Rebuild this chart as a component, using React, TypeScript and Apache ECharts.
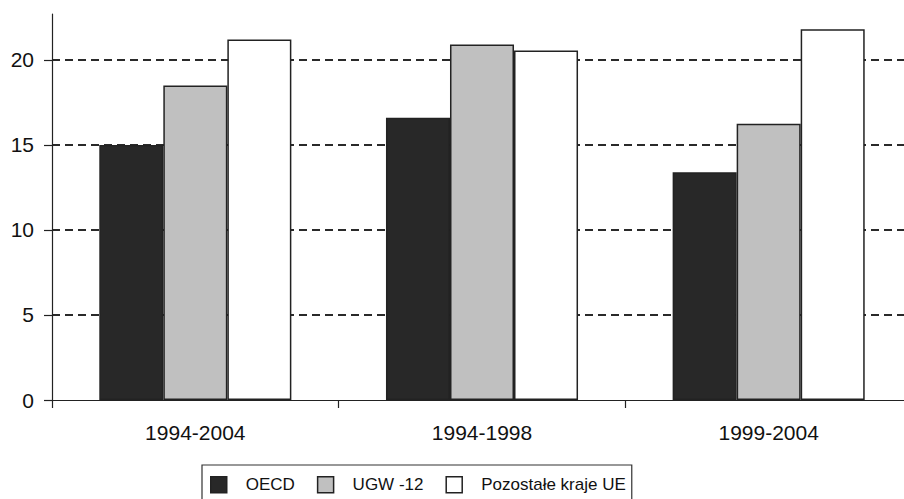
import React, { useEffect, useRef } from "react";
import * as echarts from "echarts";

const categories = ["1994-2004", "1994-1998", "1999-2004"];
const seriesNames = ["OECD", "UGW -12", "Pozostałe kraje UE"];
const oecd = [15.0, 16.6, 13.4];
const ugw = [18.5, 20.9, 16.25];
const pozostale = [21.2, 20.55, 21.8];
const yTicks = [0, 5, 10, 15, 20];
const seriesColors = ["#282828", "#c0c0c0", "#ffffff"];

export default function App() {
  const ref = useRef<HTMLDivElement>(null);
  useEffect(() => {
    if (!ref.current) return;
    const chart = echarts.init(ref.current, null, { renderer: "svg" });
    const font = "'Liberation Sans', Arial, sans-serif";
    const values = [oecd, ugw, pozostale];
    chart.setOption({
      animation: false,
      backgroundColor: "#ffffff",
      grid: { left: 52, right: 0, top: 14, bottom: 99, containLabel: false },
      legend: {
        left: 202,
        top: 465,
        padding: [11, 6, 10, 8],
        borderColor: "#333",
        borderWidth: 1.2,
        itemWidth: 16,
        itemHeight: 16,
        itemGap: 22,
        icon: "rect",
        textStyle: {
          fontFamily: font,
          fontSize: 17,
          color: "#111",
          padding: [0, 0, 0, 14],
        },
        data: seriesNames.map((n, i) => ({
          name: n,
          itemStyle: { color: seriesColors[i], borderColor: "#222", borderWidth: 1.5 },
        })),
      },
      xAxis: {
        type: "category",
        data: categories,
        boundaryGap: true,
        axisLine: { show: true, lineStyle: { color: "#222", width: 1.2 } },
        axisTick: { show: true, alignWithLabel: false, interval: 0, length: 8, lineStyle: { color: "#222", width: 1.2 } },
        axisLabel: { fontFamily: font, fontSize: 21, color: "#111", margin: 22, interval: 0 },
        splitLine: { show: false },
      },
      yAxis: {
        type: "value",
        min: 0,
        max: 22.7,
        interval: 5,
        axisLine: { show: true, lineStyle: { color: "#222", width: 1.2 } },
        axisTick: {
          show: true,
          length: 8,
          customValues: yTicks,
          lineStyle: { color: "#222", width: 1.2 },
        },
        axisLabel: {
          fontFamily: font,
          fontSize: 21,
          color: "#111",
          margin: 18,
          customValues: yTicks,
        },
        splitLine: {
          show: true,
          showMinLine: false,
          lineStyle: { color: "#2a2a2a", width: 2, type: [8, 5] },
        },
      },
      series: seriesNames.map((n, i) => ({
        name: n,
        type: "bar",
        data: values[i],
        barGap: "0%",
        barCategoryGap: "33%",
        itemStyle: { color: seriesColors[i], borderColor: "#222", borderWidth: 1.5 },
      })),
    });
    return () => chart.dispose();
  }, []);
  return (
    <div style={{ position: "fixed", left: 0, top: 0, width: 904, height: 499, overflow: "hidden", background: "#fff" }}>
      <div ref={ref} style={{ width: 912, height: 499 }} />
    </div>
  );
}
